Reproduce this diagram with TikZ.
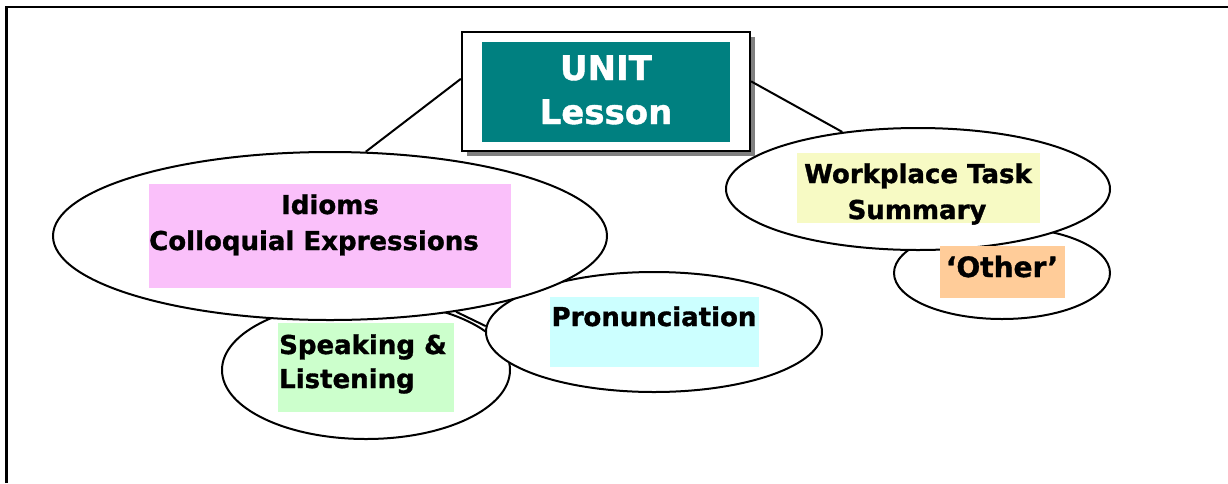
\documentclass[tikz,border=0pt]{standalone}
\usepackage{fontspec}
\setmainfont[BoldFeatures={FakeBold=1.2}]{DejaVu Sans}
\usetikzlibrary{shapes.geometric}
\definecolor{unitteal}{RGB}{0,128,128}
\definecolor{pinkbox}{RGB}{250,192,250}
\definecolor{greenbox}{RGB}{204,255,204}
\definecolor{cyanbox}{RGB}{204,255,255}
\definecolor{yellowbox}{RGB}{247,250,196}
\definecolor{orangebox}{RGB}{255,204,153}
\definecolor{shadowgray}{RGB}{128,128,128}
\begin{document}
\begin{tikzpicture}[x=1pt,y=-1pt,
  bubble/.style={ellipse, draw, line width=2pt, fill=white, inner sep=0pt},
  tbox/.style={inner sep=0pt, outer sep=0pt, anchor=north west, draw=none},
  lbl/.style={font=\fontsize{26}{36}\selectfont\bfseries, anchor=base, inner sep=0pt},
  lblw/.style={lbl, anchor=base west},
  conn/.style={line width=2pt}]
\useasboundingbox (0,0) rectangle (1228,483);
\draw[line width=2.5pt] (6.5,483) -- (6.5,7) -- (1228,7);

% bubbles
\node[bubble, minimum width=288pt, minimum height=138pt] (speak) at (366,370) {};
\node[bubble, minimum width=336pt, minimum height=120pt] (pron) at (654,332) {};
\node[bubble, minimum width=554pt, minimum height=168pt] (idioms) at (330,236) {};
\node[bubble, minimum width=216pt, minimum height=92pt] (other) at (1002,273) {};
\node[bubble, minimum width=384pt, minimum height=122pt] (work) at (918,189) {};

% coloured text boxes
\node[tbox, fill=pinkbox, minimum width=362pt, minimum height=104pt] (pinkb) at (149,184) {};
\node[tbox, fill=greenbox, minimum width=176pt, minimum height=89pt] (greenb) at (278,323) {};
\node[tbox, fill=cyanbox, minimum width=209pt, minimum height=70pt] (cyanb) at (550,297) {};
\node[tbox, fill=yellowbox, minimum width=243pt, minimum height=70pt] (yellowb) at (797,153) {};
\node[tbox, fill=orangebox, minimum width=125pt, minimum height=52pt] (orangeb) at (940,246) {};

% labels
\node[lbl] (t1) at (330,214) {Idioms};
\node[lbl] (t2) at (314,250) {Colloquial Expressions};
\node[lbl] (t3) at (918,183) {Workplace Task};
\node[lbl] (t4) at (917,219) {Summary};
\node[lbl, font=\fontsize{28}{36}\selectfont\bfseries] (t5) at (1002,277) {‘Other’};
\node[lbl] (t6) at (654,326) {Pronunciation};
\node[lblw] (t7) at (279,354) {Speaking \&};
\node[lblw] (t8) at (279,388) {Listening};

% UNIT box
\node[tbox, fill=shadowgray, minimum width=288pt, minimum height=119pt] (shadow) at (467,37) {};
\node[draw, fill=white, line width=2.2pt, inner sep=0pt, minimum width=288pt, minimum height=119pt] (unitframe) at (606,91.5) {};
\node[tbox, fill=unitteal, minimum width=248pt, minimum height=100pt] (unitin) at (482,42) {};
\node[lbl, text=white, font=\fontsize{34}{44}\selectfont\bfseries] (u1) at (606,80) {UNIT};
\node[lbl, text=white, font=\fontsize{34}{44}\selectfont\bfseries] (u2) at (606,124) {Lesson};

% connectors
\draw[conn] (unitframe.175.4) -- (idioms.67);
\draw[conn] (unitframe.4.2) -- (work.143);
\draw[conn] (idioms.-31) -- (pron.178);
\end{tikzpicture}
\end{document}
